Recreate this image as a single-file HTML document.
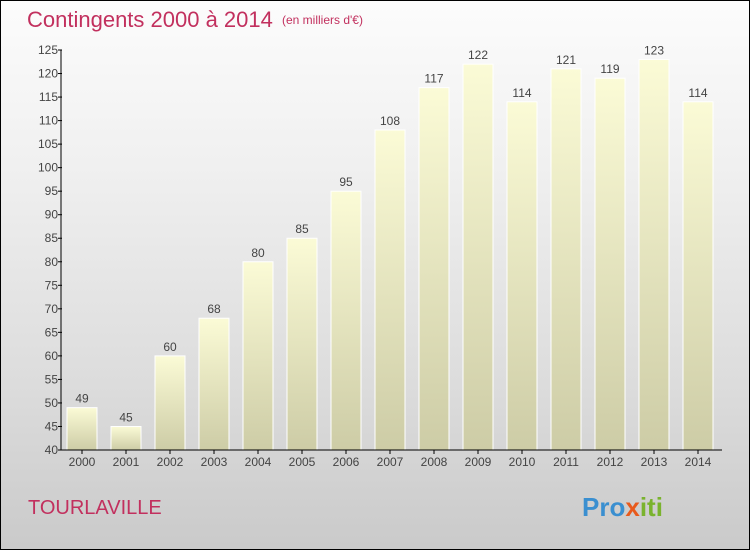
<!DOCTYPE html>
<html><head><meta charset="utf-8"><style>
body{margin:0}
#c{width:750px;height:550px;position:relative;box-sizing:border-box;border:1px solid #000;background:linear-gradient(#fcfcfc,#f0f0f0 30%,#dcdcdc 70%,#cacaca);font-family:"Liberation Sans",sans-serif;overflow:hidden}
</style></head><body>
<div id="c">
<svg width="750" height="550" style="position:absolute;left:-1px;top:-1px" id="svg">
<defs><linearGradient id="g" x1="0" y1="0" x2="0" y2="1"><stop offset="0" stop-color="#fbfbd6"/><stop offset="1" stop-color="#cdcca6"/></linearGradient></defs>
<text x="27" y="27" font-size="22" fill="#c2305e">Contingents 2000 à 2014</text>
<text x="282" y="24" font-size="12" fill="#c2305e">(en milliers d'€)</text>
<text x="28" y="514" font-size="20" fill="#c2305e">TOURLAVILLE</text>
<text x="582" y="516" font-size="26" font-weight="bold"><tspan fill="#3a8fd0">Pro</tspan><tspan fill="#e85a1c">x</tspan><tspan fill="#7ab32e">iti</tspan></text>
<g id="plot"></g>
</svg>
</div>
<script>
const years=["2000","2001","2002","2003","2004","2005","2006","2007","2008","2009","2010","2011","2012","2013","2014"];
const values=[49,45,60,68,80,85,95,108,117,122,114,121,119,123,114];
const ticks=[40,45,50,55,60,65,70,75,80,85,90,95,100,105,110,115,120,125];
const ns="http://www.w3.org/2000/svg";
const g=document.getElementById('plot');
const y=v=>450-(v-40)*400/85;
const x=i=>82+i*44;
function el(t,a){const e=document.createElementNS(ns,t);for(const k in a)e.setAttribute(k,a[k]);g.appendChild(e);return e;}
values.forEach((v,i)=>{
 const r=el('rect',{x:x(i)-15,y:y(v),width:30,height:450-y(v),fill:'url(#g)',stroke:'#fff','stroke-width':1});
 
 
 const t=el('text',{x:x(i),y:y(v)-5,'text-anchor':'middle','font-size':12,fill:'#444'});t.textContent=v;
 
 
 const xl=el('text',{x:x(i),y:466,'text-anchor':'middle','font-size':12,fill:'#444'});xl.textContent=years[i];
 
 
 el('line',{x1:x(i),x2:x(i),y1:450,y2:454,stroke:'#000'});
});
ticks.forEach(v=>{
 el('line',{x1:58,x2:62,y1:y(v),y2:y(v),stroke:'#000'});
 const t=el('text',{x:58,y:y(v)+4,'text-anchor':'end','font-size':12,fill:'#444'});t.textContent=v;
 
 
});
const ya=el('line',{x1:61,x2:61,y1:50,y2:450,stroke:'#000'});


const xa=el('line',{x1:61,x2:722,y1:450,y2:450,stroke:'#000'});


</script>
</body></html>
